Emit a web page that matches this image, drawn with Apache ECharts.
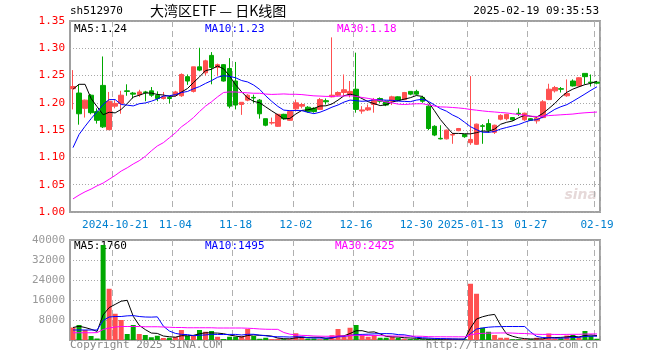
<!DOCTYPE html>
<html>
<head>
<meta charset="utf-8">
<script src="https://cdn.jsdelivr.net/npm/echarts/dist/echarts.min.js"></script>
<style>
html,body{margin:0;padding:0;background:#fff;}
#chart{width:660px;height:360px;}
</style>
</head>
<body>
<div id="chart"></div>
<script>
// ---- data ----
var dates = [
'2024-10-10','2024-10-11','2024-10-14','2024-10-15','2024-10-16','2024-10-17','2024-10-18','2024-10-21','2024-10-22','2024-10-23',
'2024-10-24','2024-10-25','2024-10-28','2024-10-29','2024-10-30','2024-10-31','2024-11-01','2024-11-04','2024-11-05','2024-11-06',
'2024-11-07','2024-11-08','2024-11-11','2024-11-12','2024-11-13','2024-11-14','2024-11-15','2024-11-18','2024-11-19','2024-11-20',
'2024-11-21','2024-11-22','2024-11-25','2024-11-26','2024-11-27','2024-11-28','2024-11-29','2024-12-02','2024-12-03','2024-12-04',
'2024-12-05','2024-12-06','2024-12-09','2024-12-10','2024-12-11','2024-12-12','2024-12-13','2024-12-16','2024-12-17','2024-12-18',
'2024-12-19','2024-12-20','2024-12-23','2024-12-24','2024-12-25','2024-12-26','2024-12-27','2024-12-30','2024-12-31','2025-01-02',
'2025-01-03','2025-01-06','2025-01-07','2025-01-08','2025-01-09','2025-01-10','2025-01-13','2025-01-14','2025-01-15','2025-01-16',
'2025-01-17','2025-01-20','2025-01-21','2025-01-22','2025-01-23','2025-01-24','2025-01-27','2025-02-05','2025-02-06','2025-02-07',
'2025-02-10','2025-02-11','2025-02-12','2025-02-13','2025-02-14','2025-02-17','2025-02-18','2025-02-19'];

var opens = [1.226,1.218,1.190,1.214,1.184,1.232,1.151,1.194,1.199,1.222,
1.218,1.215,1.220,1.222,1.214,1.208,1.210,1.214,1.213,1.248,
1.221,1.266,1.255,1.287,1.265,1.270,1.263,1.240,1.197,1.205,
1.210,1.205,1.171,1.163,1.157,1.179,1.168,1.189,1.194,1.192,
1.190,1.188,1.204,1.211,1.214,1.219,1.216,1.225,1.185,1.187,
1.197,1.208,1.203,1.203,1.211,1.206,1.221,1.221,1.210,1.194,
1.157,1.135,1.134,1.141,1.149,1.142,1.127,1.124,1.158,1.162,
1.146,1.170,1.171,1.173,1.181,1.169,1.171,1.167,1.173,1.206,
1.222,1.226,1.213,1.240,1.231,1.254,1.238,1.238];

var closes = [1.230,1.180,1.205,1.182,1.168,1.156,1.203,1.199,1.214,1.221,
1.216,1.220,1.219,1.214,1.208,1.211,1.208,1.220,1.252,1.240,
1.266,1.260,1.277,1.265,1.270,1.240,1.194,1.196,1.201,1.214,
1.209,1.180,1.159,1.164,1.179,1.171,1.184,1.200,1.197,1.184,
1.184,1.206,1.202,1.214,1.219,1.224,1.221,1.188,1.187,1.191,
1.206,1.203,1.196,1.211,1.205,1.219,1.216,1.216,1.203,1.153,
1.141,1.134,1.150,1.142,1.153,1.138,1.133,1.161,1.157,1.150,
1.159,1.177,1.179,1.169,1.180,1.181,1.168,1.172,1.202,1.225,
1.228,1.225,1.217,1.231,1.246,1.248,1.237,1.236];

var lows = [1.188,1.160,1.173,1.179,1.162,1.154,1.150,1.190,1.180,1.213,
1.208,1.211,1.203,1.211,1.203,1.206,1.199,1.212,1.211,1.233,
1.219,1.258,1.250,1.234,1.249,1.239,1.190,1.188,1.178,1.203,
1.200,1.171,1.157,1.160,1.156,1.169,1.167,1.184,1.190,1.182,
1.182,1.187,1.197,1.210,1.212,1.213,1.210,1.182,1.180,1.185,
1.182,1.200,1.194,1.196,1.203,1.205,1.214,1.214,1.200,1.150,
1.139,1.133,1.133,1.125,1.148,1.136,1.123,1.123,1.125,1.145,
1.143,1.168,1.168,1.167,1.176,1.167,1.167,1.162,1.172,1.205,
1.219,1.219,1.211,1.230,1.230,1.234,1.230,1.234];

var highs = [1.260,1.234,1.206,1.216,1.190,1.285,1.220,1.205,1.222,1.234,
1.220,1.224,1.222,1.229,1.221,1.220,1.213,1.222,1.254,1.252,
1.266,1.301,1.279,1.293,1.272,1.271,1.282,1.275,1.201,1.216,
1.215,1.207,1.171,1.173,1.180,1.180,1.186,1.206,1.200,1.194,
1.192,1.209,1.208,1.320,1.221,1.252,1.240,1.292,1.194,1.197,
1.209,1.210,1.204,1.213,1.212,1.220,1.221,1.224,1.213,1.197,
1.159,1.159,1.151,1.145,1.154,1.143,1.249,1.162,1.161,1.170,
1.160,1.179,1.180,1.174,1.190,1.182,1.172,1.173,1.205,1.235,
1.231,1.229,1.243,1.243,1.247,1.254,1.252,1.240];

var volumes = [5000,6000,4000,1600,600,38000,20500,10500,8000,2400,
6000,2400,2000,1100,1700,800,900,1200,4000,1600,
1600,4000,3300,3600,1300,400,1300,1300,1600,4400,
1600,500,900,400,500,300,300,2700,1300,600,
600,300,500,1900,4400,1300,4900,6000,2000,1300,
2000,900,900,1300,900,500,400,400,300,400,
300,300,400,400,300,300,22500,18500,4900,3300,
2000,900,900,300,300,300,300,900,500,2600,
600,650,1800,2000,1000,3600,1700,500];

// moving-average values before enough history exists
var ma5Head  = [1.225,1.234,1.234,1.208];
var ma10Head = [1.118,1.142,1.157,1.171,1.184,1.197,1.206,1.206,1.197];
var ma30Head = [1.024,1.031,1.037,1.042,1.048,1.053,1.060,1.067,1.075,1.081,
1.088,1.094,1.102,1.112,1.121,1.127,1.136,1.145,1.156,1.164,
1.173,1.184,1.194,1.202,1.211,1.219,1.220,1.220,1.219];
var vol5Head  = [5000,5500,5000,4300];
var vol10Head = [4000,4000,4000,4000,4000,7800,9200,9400,9400];
var vol30Head = [2900,2900,2900,2900,2950,4200,4800,5200,5400,5400,
5400,5400,5300,5300,5300,5200,5100,5000,5000,4900,
4900,4900,4900,4900,4800,4800,4800,4800,4800];

var priceTicks = [1.00,1.05,1.10,1.15,1.20,1.25,1.30,1.35];
var volTicks = [0,8000,16000,24000,32000,40000];
var tickDates = ['2024-10-21','2024-11-04','2024-11-18','2024-12-02','2024-12-16','2024-12-30','2025-01-13','2025-01-27','2025-02-19'];
var tickTexts = ['2024-10-21','11-04','11-18','12-02','12-16','12-30','2025-01-13','01-27','02-19'];

var titleCode = 'sh512970';
var titleName = '大湾区ETF — 日K线图';
var titleTime = '2025-02-19 09:35:53';

// ---- build ----
function movingAvg(arr, n, head){
  return arr.map(function(v,i){
    if(i < n-1) return head[i];
    var s=0; for(var k=i-n+1;k<=i;k++) s+=arr[k];
    return s/n;
  });
}
var ma5 = movingAvg(closes,5,ma5Head), ma10 = movingAvg(closes,10,ma10Head), ma30 = movingAvg(closes,30,ma30Head);
var v5 = movingAvg(volumes,5,vol5Head), v10 = movingAvg(volumes,10,vol10Head), v30 = movingAvg(volumes,30,vol30Head);

var RED='#ff5050', GREEN='#00a800';
var kData = dates.map(function(d,i){ return [opens[i],closes[i],lows[i],highs[i]]; });
var vData = volumes.map(function(v,i){
  return {value:v, itemStyle:{color: closes[i]>opens[i] ? RED : GREEN}};
});

function isTick(idx, val){ return tickDates.indexOf(val) >= 0; }
var MONO = '"DejaVu Sans Mono", monospace';
var last = dates.length-1;

var chart = echarts.init(document.getElementById('chart'), null, {renderer:'canvas'});
var option = {
  animation:false,
  backgroundColor:'#ffffff',
  grid:[
    {left:70, right:60, top:21, height:191, show:true, borderColor:'#a0a0a0', borderWidth:2, containLabel:false},
    {left:70, right:60, top:240, height:100, show:true, borderColor:'#a0a0a0', borderWidth:2, containLabel:false}
  ],
  xAxis:[
    {type:'category', data:dates, gridIndex:0, boundaryGap:true,
     axisLine:{show:false}, axisTick:{show:false},
     axisLabel:{interval:isTick, color:'#0080d0', fontFamily:MONO, fontSize:11, margin:8,
       formatter:function(v){ var k=tickDates.indexOf(v); return k>=0?tickTexts[k]:''; }},
     splitLine:{show:true, interval:isTick, lineStyle:{color:'#b0b0b0', type:[6,4], width:1}}},
    {type:'category', data:dates, gridIndex:1, boundaryGap:true,
     axisLine:{show:false}, axisTick:{show:false}, axisLabel:{show:false},
     splitLine:{show:true, interval:isTick, lineStyle:{color:'#b0b0b0', type:[6,4], width:1}}}
  ],
  yAxis:[
    {type:'value', gridIndex:0, min:priceTicks[0], max:priceTicks[priceTicks.length-1], interval:0.05,
     axisLine:{show:false}, axisTick:{show:false},
     axisLabel:{color:'#ff0000', fontFamily:MONO, fontSize:11, margin:5, formatter:function(v){return v.toFixed(2);}},
     splitLine:{show:true, lineStyle:{color:'#a8a8a8', type:[1,2], width:1}}},
    {type:'value', gridIndex:1, min:volTicks[0], max:volTicks[volTicks.length-1], interval:8000,
     axisLine:{show:false}, axisTick:{show:false},
     axisLabel:{color:'#999999', fontFamily:MONO, fontSize:11, margin:5, formatter:function(v){return v===0?'':String(v);}},
     splitLine:{show:true, lineStyle:{color:'#a8a8a8', type:[1,2], width:1}}}
  ],
  series:[
    {type:'candlestick', xAxisIndex:0, yAxisIndex:0, data:kData, barWidth:5,
     itemStyle:{color:RED, color0:GREEN, borderColor:RED, borderColor0:GREEN, borderWidth:1}},
    {type:'line', xAxisIndex:0, yAxisIndex:0, data:ma5, symbol:'none', lineStyle:{color:'#000000', width:1}},
    {type:'line', xAxisIndex:0, yAxisIndex:0, data:ma10, symbol:'none', lineStyle:{color:'#0000ff', width:1}},
    {type:'line', xAxisIndex:0, yAxisIndex:0, data:ma30, symbol:'none', lineStyle:{color:'#ff00ff', width:1}},
    {type:'bar', xAxisIndex:1, yAxisIndex:1, data:vData, barWidth:5},
    {type:'line', xAxisIndex:1, yAxisIndex:1, data:v5, symbol:'none', lineStyle:{color:'#000000', width:1}},
    {type:'line', xAxisIndex:1, yAxisIndex:1, data:v10, symbol:'none', lineStyle:{color:'#0000ff', width:1}},
    {type:'line', xAxisIndex:1, yAxisIndex:1, data:v30, symbol:'none', lineStyle:{color:'#ff00ff', width:1}}
  ],
  graphic:[
    {type:'text', left:70, top:6, style:{text:titleCode, fill:'#000', font:'11px '+MONO}},
    {type:'text', left:150, top:4, style:{text:titleName, fill:'#000', font:'14px "Noto Sans CJK SC", sans-serif'}},
    {type:'text', right:61, top:6, style:{text:titleTime, fill:'#000', font:'11px '+MONO}},
    {type:'text', left:74, top:24, style:{text:'MA5:'+ma5[last].toFixed(2), fill:'#000', font:'11px '+MONO}},
    {type:'text', left:205, top:24, style:{text:'MA10:'+ma10[last].toFixed(2), fill:'#0000ff', font:'11px '+MONO}},
    {type:'text', left:337, top:24, style:{text:'MA30:'+ma30[last].toFixed(2), fill:'#ff00ff', font:'11px '+MONO}},
    {type:'text', left:74, top:241, style:{text:'MA5:'+Math.round(v5[last]), fill:'#000', font:'11px '+MONO}},
    {type:'text', left:205, top:241, style:{text:'MA10:'+Math.round(v10[last]), fill:'#0000ff', font:'11px '+MONO}},
    {type:'text', left:335, top:241, style:{text:'MA30:'+Math.round(v30[last]), fill:'#ff00ff', font:'11px '+MONO}},
    {type:'text', left:70, top:340, style:{text:'Copyright 2025 SINA.COM', fill:'#888', font:'11px '+MONO}},
    {type:'text', right:62, top:340, style:{text:'http://finance.sina.com.cn', fill:'#888', font:'11px '+MONO}},
    {type:'text', right:63, top:188, style:{text:'sina', fill:'rgba(205,180,180,0.5)', font:'italic bold 14px "DejaVu Sans", sans-serif'}}
  ]
};
chart.setOption(option);
</script>
</body>
</html>
